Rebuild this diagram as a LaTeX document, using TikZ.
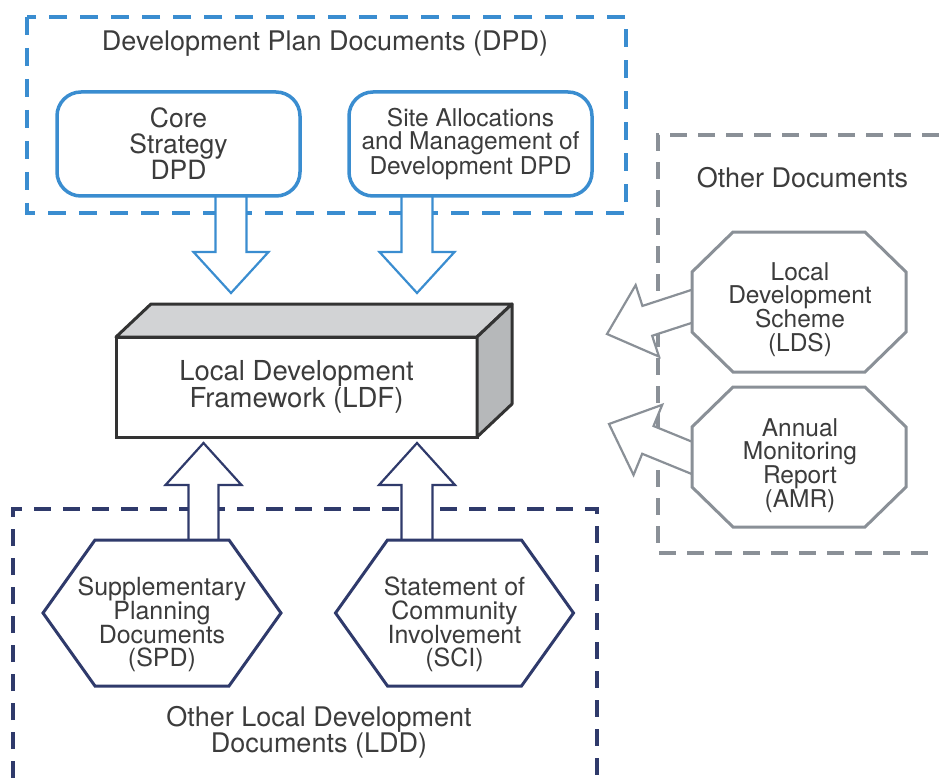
\documentclass[tikz,border=0pt]{standalone}
\usepackage{fontspec}
\setmainfont{TeX Gyre Heros}
\usetikzlibrary{calc}
\definecolor{dpdblue}{HTML}{3A8DD0}
\definecolor{ldnavy}{HTML}{2F3A6B}
\definecolor{odgray}{HTML}{8A9097}
\definecolor{txtgray}{HTML}{3C3C3C}
\definecolor{ldftop}{HTML}{D2D3D5}
\definecolor{ldfside}{HTML}{B6B8BA}
\definecolor{ldfline}{HTML}{333333}
\pgfdeclarelayer{back}
\pgfdeclarelayer{mid}
\pgfsetlayers{back,mid,main}
% block arrow: #1 style, #2 start, #3 tip, #4 half shaft, #5 half head, #6 head length
\newcommand\blockarrow[6]{%
  \coordinate (bAbase) at ($(#3)!#6!(#2)$);
  \filldraw[#1] ($(#2)!#4!90:(#3)$) -- ($(bAbase)!#4!90:(#3)$) -- ($(bAbase)!#5!90:(#3)$) -- (#3)
    -- ($(bAbase)!#5!-90:(#3)$) -- ($(bAbase)!#4!-90:(#3)$) -- ($(#2)!#4!-90:(#3)$);
}
\begin{document}
\begin{tikzpicture}[x=1pt,y=-1pt,
  txt/.style={text=txtgray, align=center, inner sep=0pt, outer sep=0pt},
  dpdbox/.style={txt, draw=dpdblue, line width=3.5pt, rounded corners=24pt, fill=white,
    minimum width=243pt, minimum height=104pt},
  ldfbox/.style={txt, draw=ldfline, line width=3pt, fill=white, minimum width=361pt, minimum height=100pt},
  ph/.style={inner sep=0pt, outer sep=0pt},
  bluedash/.style={draw=dpdblue, line width=3.4pt, dash pattern=on 18pt off 13pt},
  navydash/.style={draw=ldnavy, line width=3.4pt, dash pattern=on 17pt off 12pt},
  graydash/.style={draw=odgray, line width=3.4pt, dash pattern=on 17pt off 11pt},
  arrblue/.style={fill=white, draw=dpdblue, line width=2.2pt, line join=miter},
  arrnavy/.style={fill=white, draw=ldnavy, line width=2.2pt, line join=miter},
  arrgray/.style={fill=white, draw=odgray, line width=2.2pt, line join=miter},
  hexshape/.style={fill=white, draw=ldnavy, line width=3pt, line join=miter},
  octshape/.style={fill=white, draw=odgray, line width=3pt, line join=miter},
  faceline/.style={draw=ldfline, line width=3pt, line join=round}
]
\useasboundingbox (0,0) rectangle (939,778);

% arrow tips
\coordinate (dtipA) at (231,293);
\coordinate (dtipB) at (417,293);
\coordinate (utipA) at (203.5,443);
\coordinate (utipB) at (417,443);
\coordinate (ltipA) at (607,334);
\coordinate (ltipB) at (609,424);

% main boxes
\node[dpdbox, font=\fontsize{26.5}{26}\selectfont] (core) at (178.5,144) {Core\\Strategy\\DPD};
\node[dpdbox, font=\fontsize{24.5}{23}\selectfont] (site) at (470.5,144) {Site Allocations\\and Management of\\Development DPD};
\node[ldfbox, font=\fontsize{27.5}{25}\selectfont] (ldf) at (296.5,387) {Local Development\\Framework (LDF)};
\filldraw[faceline, fill=ldftop] (ldf.north west) -- ++(35,-33) -- ($(ldf.north east)+(35,-33)$) -- (ldf.north east) -- cycle;
\filldraw[faceline, fill=ldfside] (ldf.north east) -- ++(35,-33) -- ($(ldf.south east)+(35,-33)$) -- (ldf.south east) -- cycle;

% placeholders for polygon shapes
\node[ph, minimum width=238pt, minimum height=146pt] (spd) at (162,613) {};
\node[ph, minimum width=238pt, minimum height=146pt] (sci) at (454.5,613) {};
\node[ph, minimum width=214pt, minimum height=140pt] (lds) at (799,302) {};
\node[ph, minimum width=214pt, minimum height=140pt] (amr) at (799,457) {};

% texts
\node[txt, font=\fontsize{27}{26}\selectfont] (dpdtitle) at (325,43.5) {Development Plan Documents (DPD)};
\node[txt, font=\fontsize{27}{26}\selectfont] (odtitle) at (802.5,177.5) {Other Documents};
\node[txt, font=\fontsize{27}{26}\selectfont] (lddtitle) at (319,731.8) {Other Local Development\\Documents (LDD)};
\node[txt, font=\fontsize{25}{23.8}\selectfont] (spdtxt) at (162,624.6) {Supplementary\\Planning\\Documents\\(SPD)};
\node[txt, font=\fontsize{25}{23.8}\selectfont] (scitxt) at (454.5,624.6) {Statement of\\Community\\Involvement\\(SCI)};
\node[txt, font=\fontsize{24.5}{23.8}\selectfont] (ldstxt) at (800,309.5) {Local\\Development\\Scheme\\(LDS)};
\node[txt, font=\fontsize{24.5}{23.8}\selectfont] (amrtxt) at (800,465.5) {Annual\\Monitoring\\Report\\(AMR)};

% arrow starts
\coordinate (dstartA) at (core.south -| dtipA);
\coordinate (dstartB) at (site.south -| dtipB);
\coordinate (ustartA) at (spd.north -| utipA);
\coordinate (ustartB) at (sci.north -| utipB);
\coordinate (lstartA) at ($(lds.west)+(10,1)$);
\coordinate (lstartB) at ($(amr.west)+(10,5)$);

\begin{pgfonlayer}{back}
  \draw[bluedash] (27,17) rectangle (626,213);
  \draw[navydash] (13,778) -- (13,509) -- (597,509) -- (597,778);
  \draw[graydash] (939,135) -- (658,135) -- (658,553) -- (939,553);
\end{pgfonlayer}

\begin{pgfonlayer}{mid}
  \blockarrow{arrblue}{dstartA}{dtipA}{15.5pt}{37.5pt}{41pt}
  \blockarrow{arrblue}{dstartB}{dtipB}{15.5pt}{37.5pt}{41pt}
  \blockarrow{arrnavy}{ustartA}{utipA}{15pt}{38pt}{42pt}
  \blockarrow{arrnavy}{ustartB}{utipB}{15.5pt}{38pt}{42pt}
  \blockarrow{arrgray}{lstartA}{ltipA}{15.7pt}{37.6pt}{42.4pt}
  \blockarrow{arrgray}{lstartB}{ltipB}{15pt}{37.9pt}{42pt}
  \foreach \h in {spd,sci}{
    \filldraw[hexshape] (\h.west) -- ($(\h.north west)+(52,0)$) -- ($(\h.north east)+(-52,0)$) -- (\h.east)
      -- ($(\h.south east)+(-52,0)$) -- ($(\h.south west)+(52,0)$) -- cycle;
  }
  \foreach \o in {lds,amr}{
    \filldraw[octshape] ($(\o.north west)+(41,0)$) -- ($(\o.north east)+(-41,0)$) -- ($(\o.north east)+(0,40)$)
      -- ($(\o.south east)+(0,-40)$) -- ($(\o.south east)+(-41,0)$) -- ($(\o.south west)+(41,0)$)
      -- ($(\o.south west)+(0,-40)$) -- ($(\o.north west)+(0,40)$) -- cycle;
  }
\end{pgfonlayer}
\end{tikzpicture}
\end{document}
